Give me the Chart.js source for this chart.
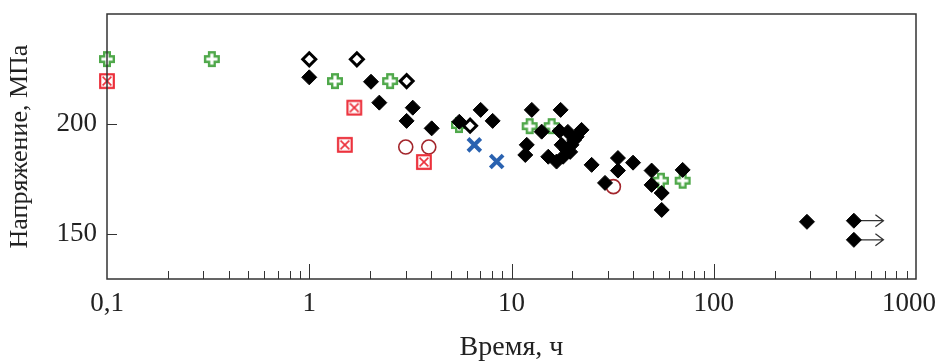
<!DOCTYPE html>
<html>
<head>
<meta charset="utf-8">
<script src="https://cdn.jsdelivr.net/npm/chart.js@4"></script>
<style>
  html, body { margin: 0; padding: 0; background: #fff; }
  canvas { display: block; }
</style>
</head>
<body>
<canvas id="chart" width="938" height="362"></canvas>
<script>
/* ---------- DATA (time, h / stress, MPa) ---------- */
const solidT = [1.0, 2.02, 2.22, 3.25, 3.03, 4.03, 5.52, 7.04, 8.07,
    12.6, 17.5, 14.1, 17.3, 19.0, 22.2, 21.0, 11.9, 11.7, 17.7, 18.7, 19.8,
    15.2, 16.7, 18.0, 19.5, 20.4,
    24.9, 33.6, 33.6, 39.9, 29.0, 49.3, 49.3, 55.3, 55.3, 70.2, 289];
const solidS = [221.2, 219.2, 209.7, 207.4, 201.4, 198, 201, 206.4, 201.4,
    206.4, 206.4, 196.5, 196.8, 196.4, 197.3, 194.2, 190.5, 185.9, 190.5, 188.2, 190.5,
    185.1, 182.9, 185.1, 187.3, 192.7,
    181.4, 184.5, 178.8, 182.4, 173.2, 178.8, 172.3, 168.6, 160.9, 179.1, 155.5];

// run-outs: not broken, arrow shows test still going
const runoutT = [493, 493];
const runoutS = [156, 147.3];
const runoutEnd = [690, 690];

const openT = [1.0, 1.72, 3.03, 6.24];
const openS = [229.4, 229.4, 219.5, 199.2];

const plusT = [0.1, 0.33, 1.34, 2.51, 5.5, 12.3, 15.8, 54.8, 70.2];
const plusS = [229.5, 229.5, 219.5, 219.5, 199.5, 199, 199, 174.2, 174.2];

const boxT = [0.1, 1.67, 1.5, 3.69];
const boxS = [219.5, 207.4, 190.5, 182.7];

const ringT = [3.0, 3.9, 31.9];
const ringS = [189.5, 189.5, 171.5];

const crossT = [6.55, 8.45];
const crossS = [190.5, 182.9];

const xTicks = [0.1, 1, 10, 100, 1000];
const yTicks = [150, 200];

const FONT = "'Liberation Serif', 'Times New Roman', serif";

/* ---------- MARKERS ---------- */
function plusMark() {
    const c = document.createElement("canvas");
    c.width = c.height = 18;
    const g = c.getContext("2d");
    const m = 9, a = 2.8, l = 6.8;
    g.beginPath();
    g.moveTo(m - a, m - l); g.lineTo(m + a, m - l); g.lineTo(m + a, m - a);
    g.lineTo(m + l, m - a); g.lineTo(m + l, m + a); g.lineTo(m + a, m + a);
    g.lineTo(m + a, m + l); g.lineTo(m - a, m + l); g.lineTo(m - a, m + a);
    g.lineTo(m - l, m + a); g.lineTo(m - l, m - a); g.lineTo(m - a, m - a);
    g.closePath();
    g.fillStyle = "#fff";
    g.fill();
    g.strokeStyle = "#4fa84a";
    g.lineWidth = 2.4;
    g.stroke();
    return c;
}

function boxMark() {
    const c = document.createElement("canvas");
    c.width = c.height = 18;
    const g = c.getContext("2d");
    const m = 9, h = 6.8, k = 4.4;
    g.fillStyle = "#fff";
    g.fillRect(m - h, m - h, 2 * h, 2 * h);
    g.strokeStyle = "#ec2f3a";
    g.lineWidth = 2.2;
    g.strokeRect(m - h, m - h, 2 * h, 2 * h);
    g.lineWidth = 1.6;
    g.beginPath();
    g.moveTo(m - k, m - k); g.lineTo(m + k, m + k);
    g.moveTo(m + k, m - k); g.lineTo(m - k, m + k);
    g.stroke();
    return c;
}

function pts(t, s) {
    return t.map((v, i) => ({ x: v, y: s[i] }));
}

// keep the plot area fixed: no extra room for overhanging labels
function noPad(s) {
    s.paddingLeft = s.paddingRight = s.paddingTop = s.paddingBottom = 0;
}

/* ---------- FRAME, INWARD TICKS, ARROWS ---------- */
const framePlugin = {
    id: "frame",
    beforeDraw(c) {
        // last x label ("1000") sits right-aligned inside the canvas
        const items = c.scales.x.getLabelItems();
        const last = items[items.length - 1];
        if (last && last.options) {
            last.options.textAlign = "right";
            last.options.translation[0] = c.width - 2;
        }
    },
    beforeDatasetsDraw(c) {
        const { ctx, scales: { x, y } } = c;
        ctx.save();
        ctx.strokeStyle = "#333";
        ctx.lineWidth = 1.3;
        runoutT.forEach((t, i) => {
            const x0 = x.getPixelForValue(t);
            const x1 = x.getPixelForValue(runoutEnd[i]);
            const py = y.getPixelForValue(runoutS[i]);
            ctx.beginPath();
            ctx.moveTo(x0, py);
            ctx.lineTo(x1, py);
            ctx.moveTo(x1 - 8, py - 6);
            ctx.lineTo(x1, py);
            ctx.lineTo(x1 - 8, py + 6);
            ctx.stroke();
        });
        ctx.restore();
    },
    afterDraw(c) {
        const { ctx, chartArea: a, scales: { x, y } } = c;
        ctx.save();
        ctx.strokeStyle = "#333";
        ctx.lineWidth = 1.5;
        ctx.strokeRect(a.left, a.top, a.right - a.left, a.bottom - a.top);

        ctx.lineWidth = 1;
        ctx.beginPath();
        for (let d = 0.1; d < 1000; d *= 10) {
            for (let k = 1; k < 10; k++) {
                const v = d * k;
                if (v <= 0.1) continue;
                const px = Math.round(x.getPixelForValue(v)) + 0.5;
                const len = k === 1 ? 15 : 8;
                ctx.moveTo(px, a.bottom);
                ctx.lineTo(px, a.bottom - len);
            }
        }
        yTicks.forEach(v => {
            const py = Math.round(y.getPixelForValue(v)) + 0.5;
            ctx.moveTo(a.left, py);
            ctx.lineTo(a.left + 10, py);
        });
        ctx.stroke();
        ctx.restore();
    }
};

/* ---------- CHART ---------- */
const dsBase = { showLine: false, clip: false };

new Chart(document.getElementById("chart"), {
    type: "scatter",
    data: {
        datasets: [
            {
                ...dsBase,
                data: pts(solidT.concat(runoutT), solidS.concat(runoutS)),
                pointStyle: "rectRot",
                pointRadius: 7.5,
                backgroundColor: "#000",
                borderColor: "#000",
                borderWidth: 1
            },
            {
                ...dsBase,
                data: pts(openT, openS),
                pointStyle: "rectRot",
                pointRadius: 6.5,
                backgroundColor: "#fff",
                borderColor: "#000",
                borderWidth: 3
            },
            {
                ...dsBase,
                data: pts(plusT, plusS),
                pointStyle: plusMark()
            },
            {
                ...dsBase,
                data: pts(boxT, boxS),
                pointStyle: boxMark()
            },
            {
                ...dsBase,
                data: pts(ringT, ringS),
                pointStyle: "circle",
                pointRadius: 7,
                backgroundColor: "rgba(0,0,0,0)",
                borderColor: "#a3262c",
                borderWidth: 1.6
            },
            {
                ...dsBase,
                data: pts(crossT, crossS),
                pointStyle: "crossRot",
                pointRadius: 9,
                borderColor: "#2a62b0",
                borderWidth: 4
            }
        ]
    },
    options: {
        responsive: false,
        animation: false,
        events: [],
        layout: { padding: { left: 0, right: 22, top: 14, bottom: 0 } },
        plugins: {
            legend: { display: false },
            tooltip: { enabled: false }
        },
        scales: {
            x: {
                type: "logarithmic",
                min: 0.1,
                max: 1000,
                grid: { display: false, drawTicks: false },
                border: { display: false },
                afterBuildTicks: s => { s.ticks = xTicks.map(v => ({ value: v })); },
                afterFit: s => { s.height = 83; noPad(s); },
                ticks: {
                    autoSkip: false,
                    maxRotation: 0,
                    padding: 9,
                    color: "#222",
                    font: { family: FONT, size: 27 },
                    callback: v => String(v).replace(".", ",")
                },
                title: {
                    display: true,
                    text: "Время, ч",
                    color: "#222",
                    font: { family: FONT, size: 28 },
                    padding: { top: 0, bottom: -2 }
                }
            },
            y: {
                min: 129.5,
                max: 250,
                grid: { display: false, drawTicks: false },
                border: { display: false },
                afterBuildTicks: s => { s.ticks = yTicks.map(v => ({ value: v })); },
                afterFit: s => { s.width = 107; noPad(s); },
                ticks: {
                    padding: 10,
                    color: "#222",
                    font: { family: FONT, size: 27 }
                },
                title: {
                    display: true,
                    text: "Напряжение, МПа",
                    color: "#222",
                    font: { family: FONT, size: 26 },
                    padding: { top: 5, bottom: 0 }
                }
            }
        }
    },
    plugins: [framePlugin]
});
</script>
</body>
</html>
